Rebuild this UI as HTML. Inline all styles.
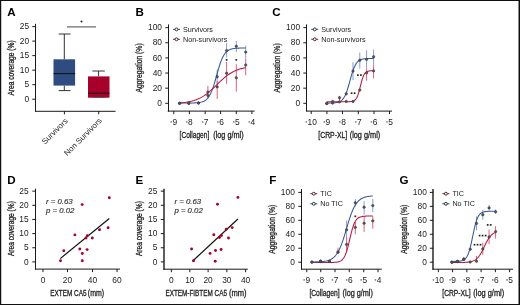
<!DOCTYPE html>
<html><head><meta charset="utf-8"><style>
html,body{margin:0;padding:0;background:#fff;}
body{width:520px;height:305px;overflow:hidden;font-family:"Liberation Sans", sans-serif;}
svg{display:block;will-change:transform;}
</style></head><body>
<svg width="520" height="305" viewBox="0 0 520 305" font-family='"Liberation Sans", sans-serif'>
<rect x="0" y="0" width="520" height="305" fill="#fff"/>
<rect x="0.5" y="0.5" width="519" height="304" fill="none" stroke="#111" stroke-width="1"/>
<rect x="1" y="1" width="1" height="303" fill="#c8c8c8"/>
<rect x="518" y="1" width="1" height="303" fill="#8a8a8a"/>
<text x="7.2" y="15.7" font-size="11.6" text-anchor="start" fill="#000" font-weight="bold" font-style="normal" >A</text>
<line x1="35.5" y1="23.8" x2="35.5" y2="111.8" stroke="#1a1a1a" stroke-width="1"/>
<line x1="32.3" y1="26.60000000000001" x2="35.5" y2="26.60000000000001" stroke="#1a1a1a" stroke-width="1"/>
<text x="29.1" y="29.20000000000001" font-size="8.4" text-anchor="end" fill="#222222" font-weight="normal" font-style="normal" >25</text>
<line x1="32.3" y1="41.120000000000005" x2="35.5" y2="41.120000000000005" stroke="#1a1a1a" stroke-width="1"/>
<text x="29.1" y="43.720000000000006" font-size="8.4" text-anchor="end" fill="#222222" font-weight="normal" font-style="normal" >20</text>
<line x1="32.3" y1="55.64" x2="35.5" y2="55.64" stroke="#1a1a1a" stroke-width="1"/>
<text x="29.1" y="58.24" font-size="8.4" text-anchor="end" fill="#222222" font-weight="normal" font-style="normal" >15</text>
<line x1="32.3" y1="70.16" x2="35.5" y2="70.16" stroke="#1a1a1a" stroke-width="1"/>
<text x="29.1" y="72.75999999999999" font-size="8.4" text-anchor="end" fill="#222222" font-weight="normal" font-style="normal" >10</text>
<line x1="32.3" y1="84.68" x2="35.5" y2="84.68" stroke="#1a1a1a" stroke-width="1"/>
<text x="29.1" y="87.28" font-size="8.4" text-anchor="end" fill="#222222" font-weight="normal" font-style="normal" >5</text>
<line x1="32.3" y1="99.2" x2="35.5" y2="99.2" stroke="#1a1a1a" stroke-width="1"/>
<text x="29.1" y="101.8" font-size="8.4" text-anchor="end" fill="#222222" font-weight="normal" font-style="normal" >0</text>
<line x1="35.1" y1="111.3" x2="115.6" y2="111.3" stroke="#1a1a1a" stroke-width="1"/>
<line x1="64.4" y1="111.3" x2="64.4" y2="114.3" stroke="#1a1a1a" stroke-width="1"/>
<line x1="98.7" y1="111.3" x2="98.7" y2="114.3" stroke="#1a1a1a" stroke-width="1"/>
<line x1="64.3" y1="34" x2="64.3" y2="59.3" stroke="#333" stroke-width="1"/>
<line x1="58.7" y1="34" x2="70.5" y2="34" stroke="#333" stroke-width="1"/>
<line x1="64.3" y1="85.6" x2="64.3" y2="90.6" stroke="#333" stroke-width="1"/>
<line x1="58.7" y1="90.6" x2="70.5" y2="90.6" stroke="#333" stroke-width="1"/>
<rect x="53.5" y="59.3" width="21.6" height="26.3" fill="#2e4c80"/>
<line x1="53.5" y1="73.6" x2="75.1" y2="73.6" stroke="#111" stroke-width="1"/>
<line x1="98.6" y1="71" x2="98.6" y2="76.4" stroke="#333" stroke-width="1"/>
<line x1="92.4" y1="71" x2="104.8" y2="71" stroke="#333" stroke-width="1"/>
<rect x="88" y="76.4" width="21.5" height="21.3" fill="#a6002b"/>
<line x1="88" y1="93.2" x2="109.5" y2="93.2" stroke="#111" stroke-width="1"/>
<line x1="92.4" y1="97.2" x2="104.8" y2="97.2" stroke="#444" stroke-width="0.8"/>
<line x1="67" y1="26.9" x2="96" y2="26.9" stroke="#666" stroke-width="1.2"/>
<circle cx="81.5" cy="21.4" r="1.0" fill="#1a1a1a"/>
<text x="68.3" y="121.5" font-size="7.9" fill="#222222" text-anchor="end" transform="rotate(-45 68.3 121.5)">Survivors</text>
<text x="102.3" y="121.2" font-size="7.9" fill="#222222" text-anchor="end" transform="rotate(-45 102.3 121.2)">Non Survivors</text>
<text x="0" y="0" font-size="9.0" text-anchor="middle" fill="#222222" stroke="#222222" stroke-width="0.3" transform="translate(14.0 68.0) rotate(-90) scale(0.7371 1)">Area coverage (%)</text>
<text x="135.4" y="15.8" font-size="11.6" text-anchor="start" fill="#000" font-weight="bold" font-style="normal" >B</text>
<line x1="168.5" y1="24.4" x2="168.5" y2="111.6" stroke="#1a1a1a" stroke-width="1"/>
<line x1="165.3" y1="27.650000000000006" x2="168.5" y2="27.650000000000006" stroke="#1a1a1a" stroke-width="1"/>
<text x="162.0" y="30.250000000000007" font-size="8.4" text-anchor="end" fill="#222222" font-weight="normal" font-style="normal" >100</text>
<line x1="165.3" y1="42.78" x2="168.5" y2="42.78" stroke="#1a1a1a" stroke-width="1"/>
<text x="162.0" y="45.38" font-size="8.4" text-anchor="end" fill="#222222" font-weight="normal" font-style="normal" >80</text>
<line x1="165.3" y1="57.91" x2="168.5" y2="57.91" stroke="#1a1a1a" stroke-width="1"/>
<text x="162.0" y="60.51" font-size="8.4" text-anchor="end" fill="#222222" font-weight="normal" font-style="normal" >60</text>
<line x1="165.3" y1="73.03999999999999" x2="168.5" y2="73.03999999999999" stroke="#1a1a1a" stroke-width="1"/>
<text x="162.0" y="75.63999999999999" font-size="8.4" text-anchor="end" fill="#222222" font-weight="normal" font-style="normal" >40</text>
<line x1="165.3" y1="88.17" x2="168.5" y2="88.17" stroke="#1a1a1a" stroke-width="1"/>
<text x="162.0" y="90.77" font-size="8.4" text-anchor="end" fill="#222222" font-weight="normal" font-style="normal" >20</text>
<line x1="165.3" y1="103.3" x2="168.5" y2="103.3" stroke="#1a1a1a" stroke-width="1"/>
<text x="162.0" y="105.89999999999999" font-size="8.4" text-anchor="end" fill="#222222" font-weight="normal" font-style="normal" >0</text>
<line x1="167.7" y1="111.1" x2="254.6" y2="111.1" stroke="#1a1a1a" stroke-width="1"/>
<line x1="173.8" y1="111.1" x2="173.8" y2="114.1" stroke="#1a1a1a" stroke-width="1"/>
<rect x="170.46" y="121.50" width="1.5" height="0.9" fill="#222222"/>
<text x="172.46" y="124.6" font-size="8.4" text-anchor="start" fill="#222222" font-weight="normal" font-style="normal" >9</text>
<line x1="189.4" y1="111.1" x2="189.4" y2="114.1" stroke="#1a1a1a" stroke-width="1"/>
<rect x="186.06" y="121.50" width="1.5" height="0.9" fill="#222222"/>
<text x="188.06" y="124.6" font-size="8.4" text-anchor="start" fill="#222222" font-weight="normal" font-style="normal" >8</text>
<line x1="205.2" y1="111.1" x2="205.2" y2="114.1" stroke="#1a1a1a" stroke-width="1"/>
<rect x="201.86" y="121.50" width="1.5" height="0.9" fill="#222222"/>
<text x="203.86" y="124.6" font-size="8.4" text-anchor="start" fill="#222222" font-weight="normal" font-style="normal" >7</text>
<line x1="220.6" y1="111.1" x2="220.6" y2="114.1" stroke="#1a1a1a" stroke-width="1"/>
<rect x="217.26" y="121.50" width="1.5" height="0.9" fill="#222222"/>
<text x="219.26" y="124.6" font-size="8.4" text-anchor="start" fill="#222222" font-weight="normal" font-style="normal" >6</text>
<line x1="236.3" y1="111.1" x2="236.3" y2="114.1" stroke="#1a1a1a" stroke-width="1"/>
<rect x="232.96" y="121.50" width="1.5" height="0.9" fill="#222222"/>
<text x="234.96" y="124.6" font-size="8.4" text-anchor="start" fill="#222222" font-weight="normal" font-style="normal" >5</text>
<line x1="251.9" y1="111.1" x2="251.9" y2="114.1" stroke="#1a1a1a" stroke-width="1"/>
<rect x="248.56" y="121.50" width="1.5" height="0.9" fill="#222222"/>
<text x="250.56" y="124.6" font-size="8.4" text-anchor="start" fill="#222222" font-weight="normal" font-style="normal" >4</text>
<text x="0" y="0" font-size="8.8" text-anchor="start" fill="#222222" stroke="#222222" stroke-width="0.3" transform="translate(179.6 138.0) scale(0.7496 1)">[Collagen]</text>
<text x="0" y="0" font-size="8.8" text-anchor="start" fill="#222222" stroke="#222222" stroke-width="0.3" transform="translate(213.3 138.0) scale(0.8263 1)">(log g/ml)</text>
<text x="0" y="0" font-size="8.6" text-anchor="middle" fill="#222222" stroke="#222222" stroke-width="0.3" transform="translate(141.5 67.9) rotate(-90) scale(0.7918 1)">Aggregation (%)</text>
<line x1="173" y1="29.4" x2="180" y2="29.4" stroke="#35569a" stroke-width="1.1"/>
<circle cx="176.5" cy="29.4" r="1.45" fill="#fff" stroke="#333" stroke-width="1"/>
<text x="183" y="31.599999999999998" font-size="7.2" text-anchor="start" fill="#222222" font-weight="normal" font-style="normal" >Survivors</text>
<line x1="173" y1="39.3" x2="180" y2="39.3" stroke="#bb1540" stroke-width="1.1"/>
<circle cx="176.5" cy="39.3" r="1.45" fill="#fff" stroke="#333" stroke-width="1"/>
<text x="183" y="41.5" font-size="7.2" text-anchor="start" fill="#222222" font-weight="normal" font-style="normal" >Non-survivors</text>
<line x1="217.2" y1="69.6" x2="217.2" y2="83.6" stroke="#869ed0" stroke-width="1"/>
<line x1="226.6" y1="43" x2="226.6" y2="57.4" stroke="#869ed0" stroke-width="1"/>
<line x1="236.3" y1="41" x2="236.3" y2="52.1" stroke="#869ed0" stroke-width="1"/>
<line x1="245.7" y1="45.6" x2="245.7" y2="58.9" stroke="#869ed0" stroke-width="1"/>
<line x1="207.9" y1="85.8" x2="207.9" y2="98.1" stroke="#d9607f" stroke-width="1"/>
<line x1="217.2" y1="81.2" x2="217.2" y2="98.9" stroke="#d9607f" stroke-width="1"/>
<line x1="226.6" y1="61.9" x2="226.6" y2="83.8" stroke="#d9607f" stroke-width="1"/>
<line x1="236.3" y1="64.2" x2="236.3" y2="91.7" stroke="#d9607f" stroke-width="1"/>
<line x1="245.7" y1="58.9" x2="245.7" y2="75.3" stroke="#d9607f" stroke-width="1"/>
<path d="M179.60,103.04 L180.44,103.03 L181.27,103.03 L182.11,103.03 L182.95,103.03 L183.78,103.03 L184.62,103.03 L185.46,103.02 L186.29,103.02 L187.13,103.02 L187.97,103.01 L188.80,103.00 L189.64,102.99 L190.48,102.98 L191.31,102.97 L192.15,102.95 L192.99,102.93 L193.82,102.90 L194.66,102.87 L195.50,102.83 L196.33,102.77 L197.17,102.71 L198.01,102.63 L198.84,102.53 L199.68,102.40 L200.52,102.25 L201.35,102.06 L202.19,101.83 L203.03,101.53 L203.86,101.18 L204.70,100.74 L205.54,100.20 L206.37,99.55 L207.21,98.76 L208.05,97.80 L208.88,96.66 L209.72,95.32 L210.56,93.74 L211.39,91.91 L212.23,89.83 L213.07,87.50 L213.91,84.93 L214.74,82.16 L215.58,79.25 L216.42,76.24 L217.25,73.22 L218.09,70.25 L218.93,67.41 L219.76,64.74 L220.60,62.29 L221.44,60.09 L222.27,58.14 L223.11,56.44 L223.95,54.98 L224.78,53.74 L225.62,52.70 L226.46,51.84 L227.29,51.12 L228.13,50.53 L228.97,50.04 L229.80,49.65 L230.64,49.33 L231.48,49.07 L232.31,48.86 L233.15,48.69 L233.99,48.55 L234.82,48.44 L235.66,48.35 L236.50,48.28 L237.33,48.22 L238.17,48.17 L239.01,48.13 L239.84,48.10 L240.68,48.08 L241.52,48.06 L242.35,48.04 L243.19,48.03 L244.03,48.02 L244.86,48.01 L245.70,48.01" fill="none" stroke="#35569a" stroke-width="1.05"/>
<path d="M179.60,102.98 L180.44,102.91 L181.27,102.84 L182.11,102.75 L182.95,102.66 L183.78,102.57 L184.62,102.46 L185.46,102.35 L186.29,102.22 L187.13,102.09 L187.97,101.94 L188.80,101.79 L189.64,101.62 L190.48,101.43 L191.31,101.23 L192.15,101.02 L192.99,100.79 L193.82,100.55 L194.66,100.28 L195.50,100.00 L196.33,99.69 L197.17,99.36 L198.01,99.02 L198.84,98.64 L199.68,98.25 L200.52,97.83 L201.35,97.38 L202.19,96.90 L203.03,96.40 L203.86,95.88 L204.70,95.32 L205.54,94.74 L206.37,94.13 L207.21,93.50 L208.05,92.83 L208.88,92.15 L209.72,91.44 L210.56,90.71 L211.39,89.96 L212.23,89.19 L213.07,88.41 L213.91,87.61 L214.74,86.81 L215.58,85.99 L216.42,85.17 L217.25,84.36 L218.09,83.54 L218.93,82.73 L219.76,81.92 L220.60,81.13 L221.44,80.35 L222.27,79.58 L223.11,78.83 L223.95,78.11 L224.78,77.40 L225.62,76.72 L226.46,76.07 L227.29,75.44 L228.13,74.83 L228.97,74.26 L229.80,73.71 L230.64,73.19 L231.48,72.69 L232.31,72.22 L233.15,71.78 L233.99,71.36 L234.82,70.97 L235.66,70.60 L236.50,70.26 L237.33,69.94 L238.17,69.64 L239.01,69.36 L239.84,69.09 L240.68,68.85 L241.52,68.62 L242.35,68.41 L243.19,68.22 L244.03,68.04 L244.86,67.87 L245.70,67.72" fill="none" stroke="#bb1540" stroke-width="1.05"/>
<circle cx="179.6" cy="103.3" r="1.2" fill="#555" stroke="#3c3c3c" stroke-width="0.6"/>
<circle cx="188.8" cy="103.3" r="1.2" fill="#555" stroke="#3c3c3c" stroke-width="0.6"/>
<circle cx="198.5" cy="103.0" r="1.2" fill="#555" stroke="#3c3c3c" stroke-width="0.6"/>
<circle cx="207.9" cy="95.4" r="1.2" fill="#555" stroke="#3c3c3c" stroke-width="0.6"/>
<circle cx="217.2" cy="76.7" r="1.2" fill="#555" stroke="#3c3c3c" stroke-width="0.6"/>
<circle cx="226.6" cy="50.6" r="1.2" fill="#555" stroke="#3c3c3c" stroke-width="0.6"/>
<circle cx="236.3" cy="46.3" r="1.2" fill="#555" stroke="#3c3c3c" stroke-width="0.6"/>
<circle cx="245.7" cy="52.1" r="1.2" fill="#555" stroke="#3c3c3c" stroke-width="0.6"/>
<circle cx="179.6" cy="103.3" r="1.2" fill="#555" stroke="#3c3c3c" stroke-width="0.6"/>
<circle cx="188.8" cy="103.3" r="1.2" fill="#555" stroke="#3c3c3c" stroke-width="0.6"/>
<circle cx="198.5" cy="103.0" r="1.2" fill="#555" stroke="#3c3c3c" stroke-width="0.6"/>
<circle cx="207.9" cy="92.1" r="1.2" fill="#555" stroke="#3c3c3c" stroke-width="0.6"/>
<circle cx="217.2" cy="86.9" r="1.2" fill="#555" stroke="#3c3c3c" stroke-width="0.6"/>
<circle cx="226.6" cy="73.2" r="1.2" fill="#555" stroke="#3c3c3c" stroke-width="0.6"/>
<circle cx="236.3" cy="77.8" r="1.2" fill="#555" stroke="#3c3c3c" stroke-width="0.6"/>
<circle cx="245.7" cy="65" r="1.2" fill="#555" stroke="#3c3c3c" stroke-width="0.6"/>
<rect x="225.75" y="59.05" width="1.7" height="1.7" fill="#222"/>
<rect x="235.45" y="59.05" width="1.7" height="1.7" fill="#222"/>
<text x="272.3" y="15.8" font-size="11.6" text-anchor="start" fill="#000" font-weight="bold" font-style="normal" >C</text>
<line x1="306.5" y1="24.4" x2="306.5" y2="111.6" stroke="#1a1a1a" stroke-width="1"/>
<line x1="303.3" y1="27.650000000000006" x2="306.5" y2="27.650000000000006" stroke="#1a1a1a" stroke-width="1"/>
<text x="300.1" y="30.250000000000007" font-size="8.4" text-anchor="end" fill="#222222" font-weight="normal" font-style="normal" >100</text>
<line x1="303.3" y1="42.78" x2="306.5" y2="42.78" stroke="#1a1a1a" stroke-width="1"/>
<text x="300.1" y="45.38" font-size="8.4" text-anchor="end" fill="#222222" font-weight="normal" font-style="normal" >80</text>
<line x1="303.3" y1="57.91" x2="306.5" y2="57.91" stroke="#1a1a1a" stroke-width="1"/>
<text x="300.1" y="60.51" font-size="8.4" text-anchor="end" fill="#222222" font-weight="normal" font-style="normal" >60</text>
<line x1="303.3" y1="73.03999999999999" x2="306.5" y2="73.03999999999999" stroke="#1a1a1a" stroke-width="1"/>
<text x="300.1" y="75.63999999999999" font-size="8.4" text-anchor="end" fill="#222222" font-weight="normal" font-style="normal" >40</text>
<line x1="303.3" y1="88.17" x2="306.5" y2="88.17" stroke="#1a1a1a" stroke-width="1"/>
<text x="300.1" y="90.77" font-size="8.4" text-anchor="end" fill="#222222" font-weight="normal" font-style="normal" >20</text>
<line x1="303.3" y1="103.3" x2="306.5" y2="103.3" stroke="#1a1a1a" stroke-width="1"/>
<text x="300.1" y="105.89999999999999" font-size="8.4" text-anchor="end" fill="#222222" font-weight="normal" font-style="normal" >0</text>
<line x1="306.3" y1="111.1" x2="392" y2="111.1" stroke="#1a1a1a" stroke-width="1"/>
<line x1="311.2" y1="111.1" x2="311.2" y2="114.1" stroke="#1a1a1a" stroke-width="1"/>
<rect x="305.53" y="121.50" width="1.5" height="0.9" fill="#222222"/>
<text x="307.53" y="124.6" font-size="8.4" text-anchor="start" fill="#222222" font-weight="normal" font-style="normal" >10</text>
<line x1="326.9" y1="111.1" x2="326.9" y2="114.1" stroke="#1a1a1a" stroke-width="1"/>
<rect x="323.56" y="121.50" width="1.5" height="0.9" fill="#222222"/>
<text x="325.56" y="124.6" font-size="8.4" text-anchor="start" fill="#222222" font-weight="normal" font-style="normal" >9</text>
<line x1="342.5" y1="111.1" x2="342.5" y2="114.1" stroke="#1a1a1a" stroke-width="1"/>
<rect x="339.16" y="121.50" width="1.5" height="0.9" fill="#222222"/>
<text x="341.16" y="124.6" font-size="8.4" text-anchor="start" fill="#222222" font-weight="normal" font-style="normal" >8</text>
<line x1="358.3" y1="111.1" x2="358.3" y2="114.1" stroke="#1a1a1a" stroke-width="1"/>
<rect x="354.96" y="121.50" width="1.5" height="0.9" fill="#222222"/>
<text x="356.96" y="124.6" font-size="8.4" text-anchor="start" fill="#222222" font-weight="normal" font-style="normal" >7</text>
<line x1="374" y1="111.1" x2="374" y2="114.1" stroke="#1a1a1a" stroke-width="1"/>
<rect x="370.66" y="121.50" width="1.5" height="0.9" fill="#222222"/>
<text x="372.66" y="124.6" font-size="8.4" text-anchor="start" fill="#222222" font-weight="normal" font-style="normal" >6</text>
<line x1="389.5" y1="111.1" x2="389.5" y2="114.1" stroke="#1a1a1a" stroke-width="1"/>
<rect x="386.16" y="121.50" width="1.5" height="0.9" fill="#222222"/>
<text x="388.16" y="124.6" font-size="8.4" text-anchor="start" fill="#222222" font-weight="normal" font-style="normal" >5</text>
<text x="0" y="0" font-size="8.8" text-anchor="start" fill="#222222" stroke="#222222" stroke-width="0.3" transform="translate(318.3 138.0) scale(0.7803 1)">[CRP-XL]</text>
<text x="0" y="0" font-size="8.8" text-anchor="start" fill="#222222" stroke="#222222" stroke-width="0.3" transform="translate(349.7 138.0) scale(0.8344 1)">(log g/ml)</text>
<text x="0" y="0" font-size="8.6" text-anchor="middle" fill="#222222" stroke="#222222" stroke-width="0.3" transform="translate(279.5 67.9) rotate(-90) scale(0.7918 1)">Aggregation (%)</text>
<line x1="311.25" y1="29.4" x2="318.25" y2="29.4" stroke="#35569a" stroke-width="1.1"/>
<circle cx="314.75" cy="29.4" r="1.45" fill="#fff" stroke="#333" stroke-width="1"/>
<text x="321.25" y="31.599999999999998" font-size="7.2" text-anchor="start" fill="#222222" font-weight="normal" font-style="normal" >Survivors</text>
<line x1="311.25" y1="39.3" x2="318.25" y2="39.3" stroke="#bb1540" stroke-width="1.1"/>
<circle cx="314.75" cy="39.3" r="1.45" fill="#fff" stroke="#333" stroke-width="1"/>
<text x="321.25" y="41.5" font-size="7.2" text-anchor="start" fill="#222222" font-weight="normal" font-style="normal" >Non-survivors</text>
<line x1="353.0" y1="62.2" x2="353.0" y2="80.1" stroke="#869ed0" stroke-width="1"/>
<line x1="359.8" y1="52.4" x2="359.8" y2="68.6" stroke="#869ed0" stroke-width="1"/>
<line x1="366.6" y1="50.2" x2="366.6" y2="68.6" stroke="#869ed0" stroke-width="1"/>
<line x1="373.6" y1="49.6" x2="373.6" y2="64.6" stroke="#869ed0" stroke-width="1"/>
<line x1="339.5" y1="95.8" x2="339.5" y2="101.5" stroke="#d9607f" stroke-width="1"/>
<line x1="366.6" y1="68.6" x2="366.6" y2="80.7" stroke="#d9607f" stroke-width="1"/>
<line x1="373.6" y1="64.6" x2="373.6" y2="78.4" stroke="#d9607f" stroke-width="1"/>
<path d="M326.80,103.08 L327.39,103.08 L327.98,103.07 L328.58,103.07 L329.17,103.06 L329.76,103.05 L330.35,103.03 L330.95,103.02 L331.54,103.00 L332.13,102.98 L332.72,102.95 L333.32,102.92 L333.91,102.87 L334.50,102.82 L335.09,102.77 L335.69,102.69 L336.28,102.60 L336.87,102.50 L337.46,102.37 L338.06,102.22 L338.65,102.03 L339.24,101.81 L339.83,101.54 L340.43,101.22 L341.02,100.83 L341.61,100.38 L342.20,99.84 L342.79,99.20 L343.39,98.45 L343.98,97.57 L344.57,96.56 L345.16,95.40 L345.76,94.09 L346.35,92.61 L346.94,90.98 L347.53,89.19 L348.13,87.27 L348.72,85.24 L349.31,83.12 L349.90,80.97 L350.50,78.81 L351.09,76.68 L351.68,74.63 L352.27,72.69 L352.87,70.88 L353.46,69.21 L354.05,67.71 L354.64,66.36 L355.24,65.18 L355.83,64.14 L356.42,63.24 L357.01,62.47 L357.61,61.82 L358.20,61.26 L358.79,60.79 L359.38,60.39 L359.97,60.06 L360.57,59.78 L361.16,59.55 L361.75,59.36 L362.34,59.20 L362.94,59.07 L363.53,58.96 L364.12,58.87 L364.71,58.79 L365.31,58.73 L365.90,58.68 L366.49,58.64 L367.08,58.60 L367.68,58.57 L368.27,58.55 L368.86,58.53 L369.45,58.51 L370.05,58.50 L370.64,58.49 L371.23,58.48 L371.82,58.47 L372.42,58.47 L373.01,58.46 L373.60,58.46" fill="none" stroke="#35569a" stroke-width="1.05"/>
<path d="M326.80,101.78 L327.39,101.78 L327.98,101.78 L328.58,101.78 L329.17,101.78 L329.76,101.78 L330.35,101.78 L330.95,101.78 L331.54,101.78 L332.13,101.78 L332.72,101.78 L333.32,101.78 L333.91,101.78 L334.50,101.78 L335.09,101.78 L335.69,101.78 L336.28,101.78 L336.87,101.78 L337.46,101.78 L338.06,101.78 L338.65,101.78 L339.24,101.78 L339.83,101.78 L340.43,101.78 L341.02,101.78 L341.61,101.78 L342.20,101.78 L342.79,101.77 L343.39,101.77 L343.98,101.77 L344.57,101.77 L345.16,101.77 L345.76,101.76 L346.35,101.76 L346.94,101.75 L347.53,101.74 L348.13,101.72 L348.72,101.71 L349.31,101.68 L349.90,101.64 L350.50,101.60 L351.09,101.53 L351.68,101.44 L352.27,101.32 L352.87,101.16 L353.46,100.94 L354.05,100.65 L354.64,100.27 L355.24,99.76 L355.83,99.09 L356.42,98.23 L357.01,97.15 L357.61,95.80 L358.20,94.17 L358.79,92.26 L359.38,90.11 L359.97,87.80 L360.57,85.41 L361.16,83.06 L361.75,80.85 L362.34,78.87 L362.94,77.15 L363.53,75.71 L364.12,74.55 L364.71,73.62 L365.31,72.90 L365.90,72.35 L366.49,71.93 L367.08,71.61 L367.68,71.37 L368.27,71.19 L368.86,71.06 L369.45,70.97 L370.05,70.89 L370.64,70.84 L371.23,70.80 L371.82,70.77 L372.42,70.75 L373.01,70.74 L373.60,70.73" fill="none" stroke="#bb1540" stroke-width="1.05"/>
<circle cx="326.8" cy="103.5" r="1.2" fill="#555" stroke="#3c3c3c" stroke-width="0.6"/>
<circle cx="332.6" cy="103.1" r="1.2" fill="#555" stroke="#3c3c3c" stroke-width="0.6"/>
<circle cx="339.5" cy="101.9" r="1.2" fill="#555" stroke="#3c3c3c" stroke-width="0.6"/>
<circle cx="346.3" cy="93.8" r="1.2" fill="#555" stroke="#3c3c3c" stroke-width="0.6"/>
<circle cx="353.0" cy="71.1" r="1.2" fill="#555" stroke="#3c3c3c" stroke-width="0.6"/>
<circle cx="359.8" cy="60.2" r="1.2" fill="#555" stroke="#3c3c3c" stroke-width="0.6"/>
<circle cx="366.6" cy="59.3" r="1.2" fill="#555" stroke="#3c3c3c" stroke-width="0.6"/>
<circle cx="373.6" cy="56.8" r="1.2" fill="#555" stroke="#3c3c3c" stroke-width="0.6"/>
<circle cx="326.8" cy="103.5" r="1.2" fill="#555" stroke="#3c3c3c" stroke-width="0.6"/>
<circle cx="332.6" cy="101.5" r="1.2" fill="#555" stroke="#3c3c3c" stroke-width="0.6"/>
<circle cx="339.5" cy="97.7" r="1.2" fill="#555" stroke="#3c3c3c" stroke-width="0.6"/>
<circle cx="346.3" cy="101.4" r="1.2" fill="#555" stroke="#3c3c3c" stroke-width="0.6"/>
<circle cx="353.0" cy="101.5" r="1.2" fill="#555" stroke="#3c3c3c" stroke-width="0.6"/>
<circle cx="359.8" cy="90.1" r="1.2" fill="#555" stroke="#3c3c3c" stroke-width="0.6"/>
<circle cx="366.6" cy="72.9" r="1.2" fill="#555" stroke="#3c3c3c" stroke-width="0.6"/>
<circle cx="373.6" cy="70.9" r="1.2" fill="#555" stroke="#3c3c3c" stroke-width="0.6"/>
<rect x="350.75" y="92.35" width="1.7" height="1.7" fill="#222"/>
<rect x="353.75" y="92.35" width="1.7" height="1.7" fill="#222"/>
<rect x="357.05" y="74.25" width="1.7" height="1.7" fill="#222"/>
<rect x="360.05" y="74.25" width="1.7" height="1.7" fill="#222"/>
<text x="7.2" y="183.6" font-size="11.6" text-anchor="start" fill="#000" font-weight="bold" font-style="normal" >D</text>
<line x1="35.5" y1="188.7" x2="35.5" y2="269.7" stroke="#1a1a1a" stroke-width="1"/>
<line x1="32.3" y1="191.14999999999998" x2="35.5" y2="191.14999999999998" stroke="#1a1a1a" stroke-width="1"/>
<text x="28.7" y="193.74999999999997" font-size="8.4" text-anchor="end" fill="#222222" font-weight="normal" font-style="normal" >25</text>
<line x1="32.3" y1="205.29999999999998" x2="35.5" y2="205.29999999999998" stroke="#1a1a1a" stroke-width="1"/>
<text x="28.7" y="207.89999999999998" font-size="8.4" text-anchor="end" fill="#222222" font-weight="normal" font-style="normal" >20</text>
<line x1="32.3" y1="219.45" x2="35.5" y2="219.45" stroke="#1a1a1a" stroke-width="1"/>
<text x="28.7" y="222.04999999999998" font-size="8.4" text-anchor="end" fill="#222222" font-weight="normal" font-style="normal" >15</text>
<line x1="32.3" y1="233.59999999999997" x2="35.5" y2="233.59999999999997" stroke="#1a1a1a" stroke-width="1"/>
<text x="28.7" y="236.19999999999996" font-size="8.4" text-anchor="end" fill="#222222" font-weight="normal" font-style="normal" >10</text>
<line x1="32.3" y1="247.74999999999997" x2="35.5" y2="247.74999999999997" stroke="#1a1a1a" stroke-width="1"/>
<text x="28.7" y="250.34999999999997" font-size="8.4" text-anchor="end" fill="#222222" font-weight="normal" font-style="normal" >5</text>
<line x1="32.3" y1="261.9" x2="35.5" y2="261.9" stroke="#1a1a1a" stroke-width="1"/>
<text x="28.7" y="264.5" font-size="8.4" text-anchor="end" fill="#222222" font-weight="normal" font-style="normal" >0</text>
<line x1="35.0" y1="269.1" x2="120" y2="269.1" stroke="#1a1a1a" stroke-width="1"/>
<line x1="43" y1="269.1" x2="43" y2="272.1" stroke="#1a1a1a" stroke-width="1"/>
<text x="43" y="282.5" font-size="8.4" text-anchor="middle" fill="#222222" font-weight="normal" font-style="normal" >0</text>
<line x1="67.5" y1="269.1" x2="67.5" y2="272.1" stroke="#1a1a1a" stroke-width="1"/>
<text x="67.5" y="282.5" font-size="8.4" text-anchor="middle" fill="#222222" font-weight="normal" font-style="normal" >20</text>
<line x1="92.5" y1="269.1" x2="92.5" y2="272.1" stroke="#1a1a1a" stroke-width="1"/>
<text x="92.5" y="282.5" font-size="8.4" text-anchor="middle" fill="#222222" font-weight="normal" font-style="normal" >40</text>
<line x1="117" y1="269.1" x2="117" y2="272.1" stroke="#1a1a1a" stroke-width="1"/>
<text x="117" y="282.5" font-size="8.4" text-anchor="middle" fill="#222222" font-weight="normal" font-style="normal" >60</text>
<text x="0" y="0" font-size="8.8" text-anchor="start" fill="#222222" stroke="#222222" stroke-width="0.3" transform="translate(50.2 295.9) scale(0.7278 1)">EXTEM CA5</text>
<text x="0" y="0" font-size="8.8" text-anchor="start" fill="#222222" stroke="#222222" stroke-width="0.3" transform="translate(87.8 295.9) scale(0.7943 1)">(mm)</text>
<text x="0" y="0" font-size="9.0" text-anchor="middle" fill="#222222" stroke="#222222" stroke-width="0.3" transform="translate(14.0 228.6) rotate(-90) scale(0.7331 1)">Area coverage (%)</text>
<text x="46.0" y="203.9" font-size="6.6" font-style="italic" fill="#333" textLength="26.7" lengthAdjust="spacingAndGlyphs" stroke="#333" stroke-width="0.15">r = 0.63</text>
<text x="46.0" y="212.5" font-size="6.6" font-style="italic" fill="#333" textLength="28.4" lengthAdjust="spacingAndGlyphs" stroke="#333" stroke-width="0.15">p = 0.02</text>
<line x1="60.2" y1="258.6" x2="109.3" y2="218.5" stroke="#111" stroke-width="1.2"/>
<circle cx="60.5" cy="260.8" r="1.45" fill="#a6002b"/>
<circle cx="63.8" cy="250.8" r="1.45" fill="#a6002b"/>
<circle cx="74.9" cy="234.9" r="1.45" fill="#a6002b"/>
<circle cx="79.8" cy="249" r="1.45" fill="#a6002b"/>
<circle cx="82.3" cy="253.5" r="1.45" fill="#a6002b"/>
<circle cx="82.3" cy="260.8" r="1.45" fill="#a6002b"/>
<circle cx="87.1" cy="249.6" r="1.45" fill="#a6002b"/>
<circle cx="86" cy="238" r="1.45" fill="#a6002b"/>
<circle cx="87.4" cy="235.6" r="1.45" fill="#a6002b"/>
<circle cx="92.3" cy="238" r="1.45" fill="#a6002b"/>
<circle cx="99.5" cy="229.7" r="1.45" fill="#a6002b"/>
<circle cx="108.1" cy="227.7" r="1.45" fill="#a6002b"/>
<circle cx="82.2" cy="204.6" r="1.45" fill="#a6002b"/>
<circle cx="109.3" cy="197.8" r="1.45" fill="#a6002b"/>
<text x="135.5" y="183.6" font-size="11.6" text-anchor="start" fill="#000" font-weight="bold" font-style="normal" >E</text>
<line x1="164.0" y1="188.7" x2="164.0" y2="269.7" stroke="#1a1a1a" stroke-width="1.4"/>
<line x1="160.8" y1="191.14999999999998" x2="164.0" y2="191.14999999999998" stroke="#1a1a1a" stroke-width="1"/>
<text x="157.3" y="193.74999999999997" font-size="8.4" text-anchor="end" fill="#222222" font-weight="normal" font-style="normal" >25</text>
<line x1="160.8" y1="205.29999999999998" x2="164.0" y2="205.29999999999998" stroke="#1a1a1a" stroke-width="1"/>
<text x="157.3" y="207.89999999999998" font-size="8.4" text-anchor="end" fill="#222222" font-weight="normal" font-style="normal" >20</text>
<line x1="160.8" y1="219.45" x2="164.0" y2="219.45" stroke="#1a1a1a" stroke-width="1"/>
<text x="157.3" y="222.04999999999998" font-size="8.4" text-anchor="end" fill="#222222" font-weight="normal" font-style="normal" >15</text>
<line x1="160.8" y1="233.59999999999997" x2="164.0" y2="233.59999999999997" stroke="#1a1a1a" stroke-width="1"/>
<text x="157.3" y="236.19999999999996" font-size="8.4" text-anchor="end" fill="#222222" font-weight="normal" font-style="normal" >10</text>
<line x1="160.8" y1="247.74999999999997" x2="164.0" y2="247.74999999999997" stroke="#1a1a1a" stroke-width="1"/>
<text x="157.3" y="250.34999999999997" font-size="8.4" text-anchor="end" fill="#222222" font-weight="normal" font-style="normal" >5</text>
<line x1="160.8" y1="261.9" x2="164.0" y2="261.9" stroke="#1a1a1a" stroke-width="1"/>
<text x="157.3" y="264.5" font-size="8.4" text-anchor="end" fill="#222222" font-weight="normal" font-style="normal" >0</text>
<line x1="163.5" y1="269.2" x2="247.8" y2="269.2" stroke="#1a1a1a" stroke-width="1"/>
<line x1="171.35" y1="269.2" x2="171.35" y2="272.2" stroke="#1a1a1a" stroke-width="1"/>
<text x="171.35" y="282.6" font-size="8.4" text-anchor="middle" fill="#222222" font-weight="normal" font-style="normal" >0</text>
<line x1="189.85" y1="269.2" x2="189.85" y2="272.2" stroke="#1a1a1a" stroke-width="1"/>
<text x="189.85" y="282.6" font-size="8.4" text-anchor="middle" fill="#222222" font-weight="normal" font-style="normal" >10</text>
<line x1="208.1" y1="269.2" x2="208.1" y2="272.2" stroke="#1a1a1a" stroke-width="1"/>
<text x="208.1" y="282.6" font-size="8.4" text-anchor="middle" fill="#222222" font-weight="normal" font-style="normal" >20</text>
<line x1="226.85" y1="269.2" x2="226.85" y2="272.2" stroke="#1a1a1a" stroke-width="1"/>
<text x="226.85" y="282.6" font-size="8.4" text-anchor="middle" fill="#222222" font-weight="normal" font-style="normal" >30</text>
<line x1="245.6" y1="269.2" x2="245.6" y2="272.2" stroke="#1a1a1a" stroke-width="1"/>
<text x="245.6" y="282.6" font-size="8.4" text-anchor="middle" fill="#222222" font-weight="normal" font-style="normal" >40</text>
<text x="0" y="0" font-size="8.8" text-anchor="start" fill="#222222" stroke="#222222" stroke-width="0.3" transform="translate(165.4 295.9) scale(0.7241 1)">EXTEM-FIBTEM CA5</text>
<text x="0" y="0" font-size="8.8" text-anchor="start" fill="#222222" stroke="#222222" stroke-width="0.3" transform="translate(228.9 295.9) scale(0.8626 1)">(mm)</text>
<text x="0" y="0" font-size="9.0" text-anchor="middle" fill="#222222" stroke="#222222" stroke-width="0.3" transform="translate(142.4 228.6) rotate(-90) scale(0.7331 1)">Area coverage (%)</text>
<text x="174.4" y="203.9" font-size="6.6" font-style="italic" fill="#333" textLength="26.7" lengthAdjust="spacingAndGlyphs" stroke="#333" stroke-width="0.15">r = 0.63</text>
<text x="174.4" y="212.5" font-size="6.6" font-style="italic" fill="#333" textLength="28.4" lengthAdjust="spacingAndGlyphs" stroke="#333" stroke-width="0.15">p = 0.02</text>
<line x1="192.4" y1="261.3" x2="237.9" y2="219" stroke="#111" stroke-width="1.2"/>
<circle cx="237.9" cy="197.4" r="1.45" fill="#a6002b"/>
<circle cx="217.5" cy="204.3" r="1.45" fill="#a6002b"/>
<circle cx="226.3" cy="229.3" r="1.45" fill="#a6002b"/>
<circle cx="232.2" cy="227.6" r="1.45" fill="#a6002b"/>
<circle cx="213.8" cy="234.7" r="1.45" fill="#a6002b"/>
<circle cx="221.4" cy="235.5" r="1.45" fill="#a6002b"/>
<circle cx="219.4" cy="237.5" r="1.45" fill="#a6002b"/>
<circle cx="228.5" cy="238" r="1.45" fill="#a6002b"/>
<circle cx="191.6" cy="249" r="1.45" fill="#a6002b"/>
<circle cx="221.1" cy="249.5" r="1.45" fill="#a6002b"/>
<circle cx="215.5" cy="250.5" r="1.45" fill="#a6002b"/>
<circle cx="210.1" cy="253.4" r="1.45" fill="#a6002b"/>
<circle cx="193.6" cy="260.8" r="1.45" fill="#a6002b"/>
<circle cx="215.2" cy="261.3" r="1.45" fill="#a6002b"/>
<text x="269.2" y="183.6" font-size="11.6" text-anchor="start" fill="#000" font-weight="bold" font-style="normal" >F</text>
<line x1="301.5" y1="189.0" x2="301.5" y2="269.8" stroke="#1a1a1a" stroke-width="1"/>
<line x1="298.3" y1="192.39999999999998" x2="301.5" y2="192.39999999999998" stroke="#1a1a1a" stroke-width="1"/>
<text x="294.8" y="194.99999999999997" font-size="8.4" text-anchor="end" fill="#222222" font-weight="normal" font-style="normal" >100</text>
<line x1="298.3" y1="206.35999999999999" x2="301.5" y2="206.35999999999999" stroke="#1a1a1a" stroke-width="1"/>
<text x="294.8" y="208.95999999999998" font-size="8.4" text-anchor="end" fill="#222222" font-weight="normal" font-style="normal" >80</text>
<line x1="298.3" y1="220.32" x2="301.5" y2="220.32" stroke="#1a1a1a" stroke-width="1"/>
<text x="294.8" y="222.92" font-size="8.4" text-anchor="end" fill="#222222" font-weight="normal" font-style="normal" >60</text>
<line x1="298.3" y1="234.28" x2="301.5" y2="234.28" stroke="#1a1a1a" stroke-width="1"/>
<text x="294.8" y="236.88" font-size="8.4" text-anchor="end" fill="#222222" font-weight="normal" font-style="normal" >40</text>
<line x1="298.3" y1="248.23999999999998" x2="301.5" y2="248.23999999999998" stroke="#1a1a1a" stroke-width="1"/>
<text x="294.8" y="250.83999999999997" font-size="8.4" text-anchor="end" fill="#222222" font-weight="normal" font-style="normal" >20</text>
<line x1="298.3" y1="262.2" x2="301.5" y2="262.2" stroke="#1a1a1a" stroke-width="1"/>
<text x="294.8" y="264.8" font-size="8.4" text-anchor="end" fill="#222222" font-weight="normal" font-style="normal" >0</text>
<line x1="301.0" y1="269.2" x2="381.75" y2="269.2" stroke="#1a1a1a" stroke-width="1"/>
<line x1="306.75" y1="269.2" x2="306.75" y2="272.2" stroke="#1a1a1a" stroke-width="1"/>
<rect x="303.41" y="279.50" width="1.5" height="0.9" fill="#222222"/>
<text x="305.41" y="282.6" font-size="8.4" text-anchor="start" fill="#222222" font-weight="normal" font-style="normal" >9</text>
<line x1="320.75" y1="269.2" x2="320.75" y2="272.2" stroke="#1a1a1a" stroke-width="1"/>
<rect x="317.41" y="279.50" width="1.5" height="0.9" fill="#222222"/>
<text x="319.41" y="282.6" font-size="8.4" text-anchor="start" fill="#222222" font-weight="normal" font-style="normal" >8</text>
<line x1="335" y1="269.2" x2="335" y2="272.2" stroke="#1a1a1a" stroke-width="1"/>
<rect x="331.66" y="279.50" width="1.5" height="0.9" fill="#222222"/>
<text x="333.66" y="282.6" font-size="8.4" text-anchor="start" fill="#222222" font-weight="normal" font-style="normal" >7</text>
<line x1="349.25" y1="269.2" x2="349.25" y2="272.2" stroke="#1a1a1a" stroke-width="1"/>
<rect x="345.91" y="279.50" width="1.5" height="0.9" fill="#222222"/>
<text x="347.91" y="282.6" font-size="8.4" text-anchor="start" fill="#222222" font-weight="normal" font-style="normal" >6</text>
<line x1="363.75" y1="269.2" x2="363.75" y2="272.2" stroke="#1a1a1a" stroke-width="1"/>
<rect x="360.41" y="279.50" width="1.5" height="0.9" fill="#222222"/>
<text x="362.41" y="282.6" font-size="8.4" text-anchor="start" fill="#222222" font-weight="normal" font-style="normal" >5</text>
<line x1="378" y1="269.2" x2="378" y2="272.2" stroke="#1a1a1a" stroke-width="1"/>
<rect x="374.66" y="279.50" width="1.5" height="0.9" fill="#222222"/>
<text x="376.66" y="282.6" font-size="8.4" text-anchor="start" fill="#222222" font-weight="normal" font-style="normal" >4</text>
<text x="0" y="0" font-size="8.8" text-anchor="start" fill="#222222" stroke="#222222" stroke-width="0.3" transform="translate(309.4 295.6) scale(0.7647 1)">[Collagen]</text>
<text x="0" y="0" font-size="8.8" text-anchor="start" fill="#222222" stroke="#222222" stroke-width="0.3" transform="translate(342.6 295.6) scale(0.8263 1)">(log g/ml)</text>
<text x="0" y="0" font-size="8.6" text-anchor="middle" fill="#222222" stroke="#222222" stroke-width="0.3" transform="translate(275.1 229.2) rotate(-90) scale(0.7918 1)">Aggregation (%)</text>
<line x1="310.3" y1="193.7" x2="317.3" y2="193.7" stroke="#bb1540" stroke-width="1.1"/>
<circle cx="313.8" cy="193.7" r="1.45" fill="#fff" stroke="#333" stroke-width="1"/>
<text x="320.3" y="195.89999999999998" font-size="7.2" text-anchor="start" fill="#222222" font-weight="normal" font-style="normal" >TIC</text>
<line x1="310.3" y1="203.8" x2="317.3" y2="203.8" stroke="#35569a" stroke-width="1.1"/>
<circle cx="313.8" cy="203.8" r="1.45" fill="#fff" stroke="#333" stroke-width="1"/>
<text x="320.3" y="206.0" font-size="7.2" text-anchor="start" fill="#222222" font-weight="normal" font-style="normal" >No TIC</text>
<line x1="346.6" y1="220.4" x2="346.6" y2="239.2" stroke="#869ed0" stroke-width="1"/>
<line x1="355.3" y1="199" x2="355.3" y2="206.6" stroke="#869ed0" stroke-width="1"/>
<line x1="364.1" y1="201.2" x2="364.1" y2="214.6" stroke="#869ed0" stroke-width="1"/>
<line x1="372.8" y1="199" x2="372.8" y2="212.2" stroke="#869ed0" stroke-width="1"/>
<line x1="338.0" y1="247.7" x2="338.0" y2="253.4" stroke="#d9607f" stroke-width="1"/>
<line x1="346.6" y1="237.3" x2="346.6" y2="251.2" stroke="#d9607f" stroke-width="1"/>
<line x1="355.3" y1="222" x2="355.3" y2="234.3" stroke="#d9607f" stroke-width="1"/>
<line x1="364.1" y1="216.3" x2="364.1" y2="231.9" stroke="#d9607f" stroke-width="1"/>
<line x1="372.8" y1="216.3" x2="372.8" y2="228.6" stroke="#d9607f" stroke-width="1"/>
<path d="M311.90,262.49 L312.67,262.49 L313.44,262.49 L314.21,262.49 L314.98,262.49 L315.75,262.49 L316.53,262.49 L317.30,262.49 L318.07,262.49 L318.84,262.49 L319.61,262.49 L320.38,262.49 L321.15,262.49 L321.92,262.49 L322.69,262.49 L323.46,262.49 L324.23,262.49 L325.01,262.48 L325.78,262.48 L326.55,262.48 L327.32,262.48 L328.09,262.47 L328.86,262.47 L329.63,262.46 L330.40,262.45 L331.17,262.44 L331.94,262.42 L332.71,262.40 L333.48,262.38 L334.26,262.34 L335.03,262.29 L335.80,262.22 L336.57,262.13 L337.34,262.02 L338.11,261.87 L338.88,261.67 L339.65,261.40 L340.42,261.05 L341.19,260.60 L341.96,260.01 L342.74,259.25 L343.51,258.28 L344.28,257.06 L345.05,255.54 L345.82,253.69 L346.59,251.47 L347.36,248.91 L348.13,246.02 L348.90,242.89 L349.67,239.61 L350.44,236.32 L351.22,233.14 L351.99,230.19 L352.76,227.55 L353.53,225.26 L354.30,223.33 L355.07,221.74 L355.84,220.46 L356.61,219.44 L357.38,218.63 L358.15,218.01 L358.92,217.53 L359.69,217.16 L360.47,216.88 L361.24,216.67 L362.01,216.51 L362.78,216.38 L363.55,216.29 L364.32,216.22 L365.09,216.17 L365.86,216.13 L366.63,216.10 L367.40,216.08 L368.17,216.06 L368.95,216.05 L369.72,216.04 L370.49,216.03 L371.26,216.02 L372.03,216.02 L372.80,216.02" fill="none" stroke="#bb1540" stroke-width="1.05"/>
<path d="M311.90,261.96 L312.67,261.95 L313.44,261.94 L314.21,261.93 L314.98,261.91 L315.75,261.89 L316.53,261.87 L317.30,261.85 L318.07,261.82 L318.84,261.79 L319.61,261.75 L320.38,261.70 L321.15,261.65 L321.92,261.58 L322.69,261.51 L323.46,261.42 L324.23,261.32 L325.01,261.20 L325.78,261.07 L326.55,260.91 L327.32,260.72 L328.09,260.50 L328.86,260.25 L329.63,259.96 L330.40,259.62 L331.17,259.23 L331.94,258.78 L332.71,258.25 L333.48,257.65 L334.26,256.96 L335.03,256.18 L335.80,255.28 L336.57,254.26 L337.34,253.12 L338.11,251.83 L338.88,250.40 L339.65,248.81 L340.42,247.06 L341.19,245.15 L341.96,243.09 L342.74,240.89 L343.51,238.56 L344.28,236.11 L345.05,233.59 L345.82,231.00 L346.59,228.39 L347.36,225.78 L348.13,223.21 L348.90,220.71 L349.67,218.30 L350.44,216.01 L351.22,213.86 L351.99,211.86 L352.76,210.01 L353.53,208.31 L354.30,206.78 L355.07,205.40 L355.84,204.16 L356.61,203.06 L357.38,202.09 L358.15,201.23 L358.92,200.48 L359.69,199.83 L360.47,199.25 L361.24,198.76 L362.01,198.33 L362.78,197.95 L363.55,197.63 L364.32,197.36 L365.09,197.12 L365.86,196.91 L366.63,196.74 L367.40,196.58 L368.17,196.45 L368.95,196.34 L369.72,196.25 L370.49,196.17 L371.26,196.10 L372.03,196.04 L372.80,195.99" fill="none" stroke="#35569a" stroke-width="1.05"/>
<circle cx="311.9" cy="262.1" r="1.2" fill="#555" stroke="#3c3c3c" stroke-width="0.6"/>
<circle cx="320.6" cy="261.0" r="1.2" fill="#555" stroke="#3c3c3c" stroke-width="0.6"/>
<circle cx="329.4" cy="261.3" r="1.2" fill="#555" stroke="#3c3c3c" stroke-width="0.6"/>
<circle cx="338.0" cy="252.1" r="1.2" fill="#555" stroke="#3c3c3c" stroke-width="0.6"/>
<circle cx="346.6" cy="244.4" r="1.2" fill="#555" stroke="#3c3c3c" stroke-width="0.6"/>
<circle cx="355.3" cy="227.4" r="1.2" fill="#555" stroke="#3c3c3c" stroke-width="0.6"/>
<circle cx="364.1" cy="223.2" r="1.2" fill="#555" stroke="#3c3c3c" stroke-width="0.6"/>
<circle cx="372.8" cy="220.9" r="1.2" fill="#555" stroke="#3c3c3c" stroke-width="0.6"/>
<circle cx="311.9" cy="262.1" r="1.2" fill="#555" stroke="#3c3c3c" stroke-width="0.6"/>
<circle cx="320.6" cy="261.5" r="1.2" fill="#555" stroke="#3c3c3c" stroke-width="0.6"/>
<circle cx="329.4" cy="261.3" r="1.2" fill="#555" stroke="#3c3c3c" stroke-width="0.6"/>
<circle cx="338.0" cy="252.1" r="1.2" fill="#555" stroke="#3c3c3c" stroke-width="0.6"/>
<circle cx="346.6" cy="229.8" r="1.2" fill="#555" stroke="#3c3c3c" stroke-width="0.6"/>
<circle cx="355.3" cy="202.8" r="1.2" fill="#555" stroke="#3c3c3c" stroke-width="0.6"/>
<circle cx="364.1" cy="207.2" r="1.2" fill="#555" stroke="#3c3c3c" stroke-width="0.6"/>
<circle cx="372.8" cy="205.6" r="1.2" fill="#555" stroke="#3c3c3c" stroke-width="0.6"/>
<rect x="354.45" y="215.45" width="1.7" height="1.7" fill="#222"/>
<text x="399.6" y="183.6" font-size="11.6" text-anchor="start" fill="#000" font-weight="bold" font-style="normal" >G</text>
<line x1="433.0" y1="189.0" x2="433.0" y2="269.8" stroke="#1a1a1a" stroke-width="1.4"/>
<line x1="429.8" y1="192.39999999999998" x2="433.0" y2="192.39999999999998" stroke="#1a1a1a" stroke-width="1"/>
<text x="426.8" y="194.99999999999997" font-size="8.4" text-anchor="end" fill="#222222" font-weight="normal" font-style="normal" >100</text>
<line x1="429.8" y1="206.35999999999999" x2="433.0" y2="206.35999999999999" stroke="#1a1a1a" stroke-width="1"/>
<text x="426.8" y="208.95999999999998" font-size="8.4" text-anchor="end" fill="#222222" font-weight="normal" font-style="normal" >80</text>
<line x1="429.8" y1="220.32" x2="433.0" y2="220.32" stroke="#1a1a1a" stroke-width="1"/>
<text x="426.8" y="222.92" font-size="8.4" text-anchor="end" fill="#222222" font-weight="normal" font-style="normal" >60</text>
<line x1="429.8" y1="234.28" x2="433.0" y2="234.28" stroke="#1a1a1a" stroke-width="1"/>
<text x="426.8" y="236.88" font-size="8.4" text-anchor="end" fill="#222222" font-weight="normal" font-style="normal" >40</text>
<line x1="429.8" y1="248.23999999999998" x2="433.0" y2="248.23999999999998" stroke="#1a1a1a" stroke-width="1"/>
<text x="426.8" y="250.83999999999997" font-size="8.4" text-anchor="end" fill="#222222" font-weight="normal" font-style="normal" >20</text>
<line x1="429.8" y1="262.2" x2="433.0" y2="262.2" stroke="#1a1a1a" stroke-width="1"/>
<text x="426.8" y="264.8" font-size="8.4" text-anchor="end" fill="#222222" font-weight="normal" font-style="normal" >0</text>
<line x1="432.5" y1="269.2" x2="513.1" y2="269.2" stroke="#1a1a1a" stroke-width="1"/>
<line x1="438.35" y1="269.2" x2="438.35" y2="272.2" stroke="#1a1a1a" stroke-width="1"/>
<rect x="432.68" y="279.50" width="1.5" height="0.9" fill="#222222"/>
<text x="434.68" y="282.6" font-size="8.4" text-anchor="start" fill="#222222" font-weight="normal" font-style="normal" >10</text>
<line x1="452.6" y1="269.2" x2="452.6" y2="272.2" stroke="#1a1a1a" stroke-width="1"/>
<rect x="449.26" y="279.50" width="1.5" height="0.9" fill="#222222"/>
<text x="451.26" y="282.6" font-size="8.4" text-anchor="start" fill="#222222" font-weight="normal" font-style="normal" >9</text>
<line x1="466.85" y1="269.2" x2="466.85" y2="272.2" stroke="#1a1a1a" stroke-width="1"/>
<rect x="463.51" y="279.50" width="1.5" height="0.9" fill="#222222"/>
<text x="465.51" y="282.6" font-size="8.4" text-anchor="start" fill="#222222" font-weight="normal" font-style="normal" >8</text>
<line x1="481.1" y1="269.2" x2="481.1" y2="272.2" stroke="#1a1a1a" stroke-width="1"/>
<rect x="477.76" y="279.50" width="1.5" height="0.9" fill="#222222"/>
<text x="479.76" y="282.6" font-size="8.4" text-anchor="start" fill="#222222" font-weight="normal" font-style="normal" >7</text>
<line x1="495.35" y1="269.2" x2="495.35" y2="272.2" stroke="#1a1a1a" stroke-width="1"/>
<rect x="492.01" y="279.50" width="1.5" height="0.9" fill="#222222"/>
<text x="494.01" y="282.6" font-size="8.4" text-anchor="start" fill="#222222" font-weight="normal" font-style="normal" >6</text>
<line x1="509.6" y1="269.2" x2="509.6" y2="272.2" stroke="#1a1a1a" stroke-width="1"/>
<rect x="506.26" y="279.50" width="1.5" height="0.9" fill="#222222"/>
<text x="508.26" y="282.6" font-size="8.4" text-anchor="start" fill="#222222" font-weight="normal" font-style="normal" >5</text>
<text x="0" y="0" font-size="8.8" text-anchor="start" fill="#222222" stroke="#222222" stroke-width="0.3" transform="translate(442.3 295.6) scale(0.7615 1)">[CRP-XL]</text>
<text x="0" y="0" font-size="8.8" text-anchor="start" fill="#222222" stroke="#222222" stroke-width="0.3" transform="translate(473.3 295.6) scale(0.8453 1)">(log g/ml)</text>
<text x="0" y="0" font-size="8.6" text-anchor="middle" fill="#222222" stroke="#222222" stroke-width="0.3" transform="translate(406.8 229.2) rotate(-90) scale(0.7918 1)">Aggregation (%)</text>
<line x1="442.4" y1="193.7" x2="449.4" y2="193.7" stroke="#bb1540" stroke-width="1.1"/>
<circle cx="445.9" cy="193.7" r="1.45" fill="#fff" stroke="#333" stroke-width="1"/>
<text x="452.4" y="195.89999999999998" font-size="7.2" text-anchor="start" fill="#222222" font-weight="normal" font-style="normal" >TIC</text>
<line x1="442.4" y1="203.8" x2="449.4" y2="203.8" stroke="#35569a" stroke-width="1.1"/>
<circle cx="445.9" cy="203.8" r="1.45" fill="#fff" stroke="#333" stroke-width="1"/>
<text x="452.4" y="206.0" font-size="7.2" text-anchor="start" fill="#222222" font-weight="normal" font-style="normal" >No TIC</text>
<line x1="476.5" y1="216.4" x2="476.5" y2="230.3" stroke="#869ed0" stroke-width="1"/>
<line x1="482.8" y1="209.8" x2="482.8" y2="219.7" stroke="#869ed0" stroke-width="1"/>
<line x1="489.1" y1="204.9" x2="489.1" y2="210.5" stroke="#869ed0" stroke-width="1"/>
<line x1="495.6" y1="209.5" x2="495.6" y2="213.9" stroke="#869ed0" stroke-width="1"/>
<line x1="463.8" y1="256.9" x2="463.8" y2="259.2" stroke="#d9607f" stroke-width="1"/>
<line x1="476.5" y1="255.9" x2="476.5" y2="261.2" stroke="#d9607f" stroke-width="1"/>
<line x1="482.8" y1="242.6" x2="482.8" y2="254.8" stroke="#d9607f" stroke-width="1"/>
<line x1="489.1" y1="229.5" x2="489.1" y2="244.3" stroke="#d9607f" stroke-width="1"/>
<line x1="495.6" y1="226.2" x2="495.6" y2="238.5" stroke="#d9607f" stroke-width="1"/>
<path d="M451.90,261.43 L452.45,261.42 L453.01,261.42 L453.56,261.41 L454.11,261.40 L454.67,261.39 L455.22,261.38 L455.77,261.37 L456.33,261.35 L456.88,261.33 L457.43,261.31 L457.98,261.27 L458.54,261.23 L459.09,261.18 L459.64,261.12 L460.20,261.05 L460.75,260.95 L461.30,260.84 L461.86,260.70 L462.41,260.52 L462.96,260.31 L463.52,260.05 L464.07,259.73 L464.62,259.33 L465.18,258.86 L465.73,258.28 L466.28,257.58 L466.84,256.74 L467.39,255.75 L467.94,254.57 L468.49,253.20 L469.05,251.62 L469.60,249.81 L470.15,247.79 L470.71,245.56 L471.26,243.14 L471.81,240.59 L472.37,237.94 L472.92,235.25 L473.47,232.59 L474.03,230.01 L474.58,227.56 L475.13,225.30 L475.69,223.23 L476.24,221.38 L476.79,219.76 L477.35,218.35 L477.90,217.14 L478.45,216.11 L479.01,215.24 L479.56,214.52 L480.11,213.92 L480.66,213.42 L481.22,213.01 L481.77,212.68 L482.32,212.41 L482.88,212.18 L483.43,212.00 L483.98,211.85 L484.54,211.73 L485.09,211.64 L485.64,211.56 L486.20,211.50 L486.75,211.44 L487.30,211.40 L487.86,211.37 L488.41,211.34 L488.96,211.32 L489.52,211.30 L490.07,211.29 L490.62,211.28 L491.17,211.27 L491.73,211.26 L492.28,211.25 L492.83,211.25 L493.39,211.24 L493.94,211.24 L494.49,211.24 L495.05,211.24 L495.60,211.24" fill="none" stroke="#35569a" stroke-width="1.05"/>
<path d="M451.90,262.54 L452.45,262.54 L453.01,262.54 L453.56,262.54 L454.11,262.53 L454.67,262.53 L455.22,262.53 L455.77,262.53 L456.33,262.53 L456.88,262.52 L457.43,262.52 L457.98,262.51 L458.54,262.51 L459.09,262.50 L459.64,262.50 L460.20,262.49 L460.75,262.48 L461.30,262.47 L461.86,262.46 L462.41,262.45 L462.96,262.43 L463.52,262.42 L464.07,262.40 L464.62,262.37 L465.18,262.34 L465.73,262.31 L466.28,262.28 L466.84,262.24 L467.39,262.19 L467.94,262.13 L468.49,262.07 L469.05,261.99 L469.60,261.91 L470.15,261.81 L470.71,261.70 L471.26,261.57 L471.81,261.42 L472.37,261.25 L472.92,261.05 L473.47,260.83 L474.03,260.57 L474.58,260.28 L475.13,259.95 L475.69,259.58 L476.24,259.17 L476.79,258.70 L477.35,258.17 L477.90,257.59 L478.45,256.95 L479.01,256.24 L479.56,255.46 L480.11,254.63 L480.66,253.72 L481.22,252.76 L481.77,251.74 L482.32,250.68 L482.88,249.57 L483.43,248.43 L483.98,247.28 L484.54,246.12 L485.09,244.97 L485.64,243.83 L486.20,242.73 L486.75,241.67 L487.30,240.65 L487.86,239.69 L488.41,238.79 L488.96,237.96 L489.52,237.19 L490.07,236.48 L490.62,235.84 L491.17,235.26 L491.73,234.74 L492.28,234.27 L492.83,233.86 L493.39,233.49 L493.94,233.16 L494.49,232.87 L495.05,232.62 L495.60,232.40" fill="none" stroke="#bb1540" stroke-width="1.05"/>
<circle cx="451.9" cy="262.2" r="1.2" fill="#555" stroke="#3c3c3c" stroke-width="0.6"/>
<circle cx="457.5" cy="261.4" r="1.2" fill="#555" stroke="#3c3c3c" stroke-width="0.6"/>
<circle cx="463.8" cy="259.2" r="1.2" fill="#555" stroke="#3c3c3c" stroke-width="0.6"/>
<circle cx="470.2" cy="249.3" r="1.2" fill="#555" stroke="#3c3c3c" stroke-width="0.6"/>
<circle cx="476.5" cy="223.4" r="1.2" fill="#555" stroke="#3c3c3c" stroke-width="0.6"/>
<circle cx="482.8" cy="214.8" r="1.2" fill="#555" stroke="#3c3c3c" stroke-width="0.6"/>
<circle cx="489.1" cy="207.9" r="1.2" fill="#555" stroke="#3c3c3c" stroke-width="0.6"/>
<circle cx="495.6" cy="211.8" r="1.2" fill="#555" stroke="#3c3c3c" stroke-width="0.6"/>
<circle cx="451.9" cy="262.2" r="1.2" fill="#555" stroke="#3c3c3c" stroke-width="0.6"/>
<circle cx="457.5" cy="261.4" r="1.2" fill="#555" stroke="#3c3c3c" stroke-width="0.6"/>
<circle cx="463.8" cy="259.2" r="1.2" fill="#555" stroke="#3c3c3c" stroke-width="0.6"/>
<circle cx="470.2" cy="262.0" r="1.2" fill="#555" stroke="#3c3c3c" stroke-width="0.6"/>
<circle cx="476.5" cy="261.2" r="1.2" fill="#555" stroke="#3c3c3c" stroke-width="0.6"/>
<circle cx="482.8" cy="249.0" r="1.2" fill="#555" stroke="#3c3c3c" stroke-width="0.6"/>
<circle cx="489.1" cy="236.9" r="1.2" fill="#555" stroke="#3c3c3c" stroke-width="0.6"/>
<circle cx="495.6" cy="231.6" r="1.2" fill="#555" stroke="#3c3c3c" stroke-width="0.6"/>
<rect x="486.85" y="224.05" width="1.7" height="1.7" fill="#222"/>
<rect x="489.85" y="224.05" width="1.7" height="1.7" fill="#222"/>
<rect x="478.75" y="234.75" width="1.7" height="1.7" fill="#222"/>
<rect x="481.75" y="234.75" width="1.7" height="1.7" fill="#222"/>
<rect x="484.75" y="234.75" width="1.7" height="1.7" fill="#222"/>
<rect x="473.65" y="243.85" width="1.7" height="1.7" fill="#222"/>
<rect x="476.65" y="243.85" width="1.7" height="1.7" fill="#222"/>
<rect x="479.65" y="243.85" width="1.7" height="1.7" fill="#222"/>
</svg>
</body></html>
